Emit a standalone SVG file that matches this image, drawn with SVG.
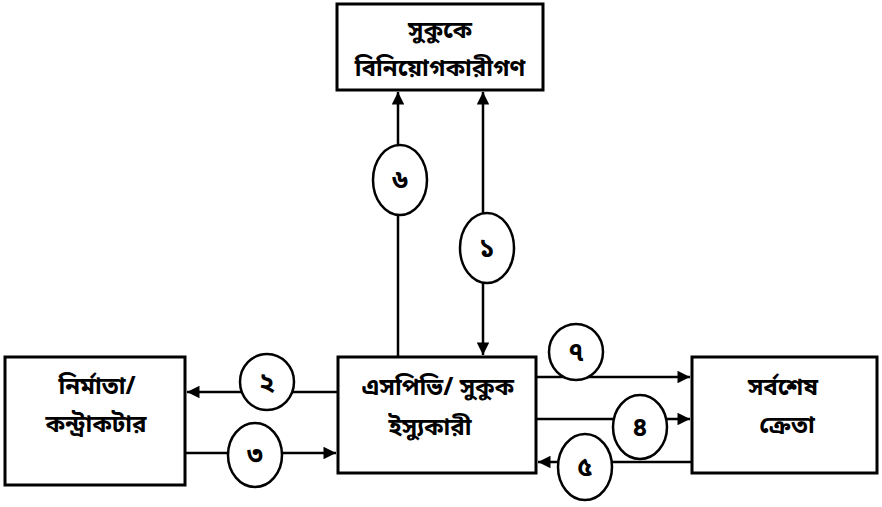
<svg xmlns="http://www.w3.org/2000/svg" width="882" height="507" viewBox="0 0 882 507">
<style>
.box{fill:#fff;stroke:#000;stroke-width:3}
.ln{fill:none;stroke:#000;stroke-width:2.5}
.cir{fill:#fff;stroke:#000;stroke-width:2.5}
.t{font-family:"Noto Sans Bengali","Noto Serif Bengali","Lohit Bengali","Noto Sans",sans-serif;font-size:24px;font-weight:bold;text-anchor:middle;fill:#000}
.n{font-family:"Noto Sans Bengali","Noto Serif Bengali","Lohit Bengali","Noto Sans",sans-serif;font-size:26px;font-weight:bold;text-anchor:middle;fill:#000}
</style>
<defs>
<marker id="ah" viewBox="0 0 10 10" refX="10" refY="5" markerWidth="6" markerHeight="5" markerUnits="strokeWidth" orient="auto-start-reverse">
<path d="M0,0 L10,5 L0,10 z" fill="#000"/>
</marker>
</defs>
<rect width="882" height="507" fill="#fff"/>
<g id="connectors">
<line class="ln" x1="398" y1="357" x2="398" y2="92" marker-end="url(#ah)"/>
<line class="ln" x1="483" y1="92" x2="483" y2="355" marker-start="url(#ah)" marker-end="url(#ah)"/>
<line class="ln" x1="338" y1="392" x2="187" y2="392" marker-end="url(#ah)"/>
<line class="ln" x1="185" y1="453" x2="336" y2="453" marker-end="url(#ah)"/>
<line class="ln" x1="536" y1="377" x2="690" y2="377" marker-end="url(#ah)"/>
<line class="ln" x1="536" y1="419" x2="690" y2="419" marker-end="url(#ah)"/>
<line class="ln" x1="692" y1="462" x2="538" y2="462" marker-end="url(#ah)"/>
<g id="c6"><ellipse class="cir" cx="400" cy="180" rx="27" ry="35"/><text class="n" x="400" y="189">৬</text></g>
<g id="c1"><ellipse class="cir" cx="487" cy="248" rx="27" ry="35"/><text class="n" x="487" y="257">১</text></g>
<g id="c2"><ellipse class="cir" cx="267" cy="382" rx="27" ry="28"/><text class="n" x="267" y="391">২</text></g>
<g id="c3"><ellipse class="cir" cx="255" cy="455" rx="27" ry="32"/><text class="n" x="255" y="464">৩</text></g>
<g id="c7"><ellipse class="cir" cx="576" cy="352" rx="27" ry="28"/><text class="n" x="576" y="361">৭</text></g>
<g id="c4"><ellipse class="cir" cx="640" cy="427" rx="27" ry="32"/><text class="n" x="640" y="436">৪</text></g>
<g id="c5"><ellipse class="cir" cx="585" cy="467" rx="27" ry="33"/><text class="n" x="585" y="476">৫</text></g>
</g>
<g id="investors">
<rect class="box" x="337" y="4" width="206" height="86"/>
<text class="t" x="440" y="38">সুকুকে</text>
<text class="t" x="440" y="76">বিনিয়োগকারীগণ</text>
</g>
<g id="contractor">
<rect class="box" x="5" y="357" width="180" height="128"/>
<text class="t" x="97" y="394">নির্মাতা/</text>
<text class="t" x="96" y="432">কন্ট্রাকটার</text>
</g>
<g id="spv">
<rect class="box" x="338" y="357" width="198" height="116"/>
<text class="t" x="438" y="395">এসপিভি/ সুকুক</text>
<text class="t" x="430" y="435">ইস্যুকারী</text>
</g>
<g id="buyer">
<rect class="box" x="692" y="357" width="185" height="116"/>
<text class="t" x="783" y="395">সর্বশেষ</text>
<text class="t" x="787" y="433">ক্রেতা</text>
</g>
</svg>
